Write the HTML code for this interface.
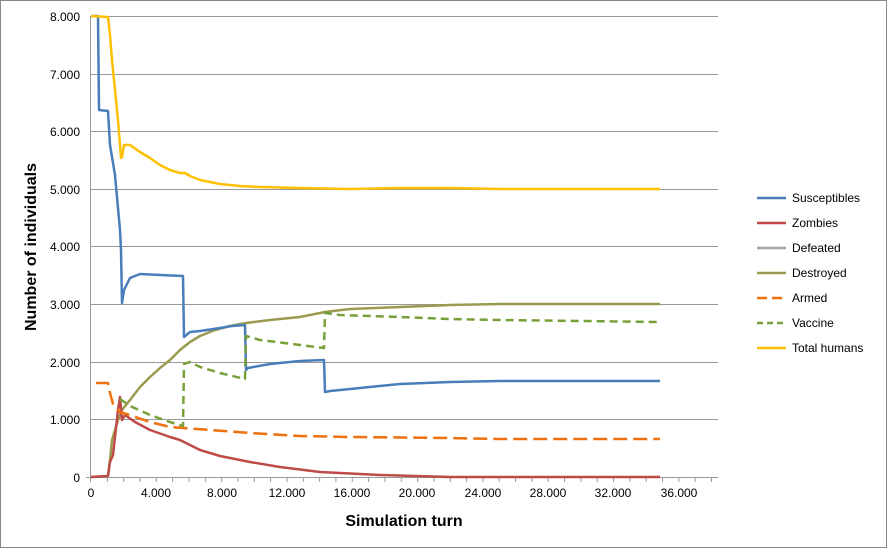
<!DOCTYPE html><html><head><style>body{margin:0;background:#fff}</style></head><body>
<svg width="888" height="549" xmlns="http://www.w3.org/2000/svg" font-family="Liberation Sans, sans-serif">
<rect x="0.5" y="0.5" width="886" height="547" fill="#fff" stroke="#888"/>
<g stroke="#999" stroke-width="1">
<line x1="91" y1="16.5" x2="718" y2="16.5"/><line x1="91" y1="74.5" x2="718" y2="74.5"/><line x1="91" y1="131.5" x2="718" y2="131.5"/><line x1="91" y1="189.5" x2="718" y2="189.5"/><line x1="91" y1="246.5" x2="718" y2="246.5"/><line x1="91" y1="304.5" x2="718" y2="304.5"/><line x1="91" y1="362.5" x2="718" y2="362.5"/><line x1="91" y1="419.5" x2="718" y2="419.5"/><line x1="86" y1="477.5" x2="718" y2="477.5"/>
<line x1="90.5" y1="16" x2="90.5" y2="482"/>
</g>
<g stroke="#999" id="ticks"></g>
<g font-size="12" fill="#000" text-anchor="end">
<text x="80" y="21">8.000</text><text x="80" y="79">7.000</text><text x="80" y="136">6.000</text><text x="80" y="194">5.000</text><text x="80" y="251">4.000</text><text x="80" y="309">3.000</text><text x="80" y="367">2.000</text><text x="80" y="424">1.000</text><text x="80" y="482">0</text>
</g>
<g font-size="12" fill="#000" text-anchor="middle">
<text x="91" y="497">0</text><text x="156" y="497">4.000</text><text x="222" y="497">8.000</text><text x="287" y="497">12.000</text><text x="352" y="497">16.000</text><text x="417" y="497">20.000</text><text x="483" y="497">24.000</text><text x="548" y="497">28.000</text><text x="613" y="497">32.000</text><text x="679" y="497">36.000</text>
</g>
<text x="404" y="526" font-size="16" font-weight="bold" text-anchor="middle">Simulation turn</text>
<text transform="translate(36,247) rotate(-90)" font-size="16" font-weight="bold" text-anchor="middle">Number of individuals</text>
<g fill="none" stroke-width="2.5" stroke-linejoin="round">
<polyline stroke="#9a9a50" points="91,477 108,476 110,460 112,440 118,420 122,410 130,400 140,387 150,377 160,368 170,360 180,350 190,342 200,336 215,330 230,326 246,323 270,320 300,317 325,312 350,309 400,307 450,305 500,304 660,304"/>
<polyline stroke="#4a7ebb" points="91,16 98,16 99,110 108,111 110,145 115,175 120,230 121,250 122,303 124,290 130,278 140,274 160,275 183,276 184,337 190,332 200,331 220,328 232,326 245,325 246,370 248,368 270,364 300,361 324,360 325,392 330,391 360,388 400,384 450,382 500,381 660,381"/>
<polyline stroke="#be4b48" points="91,477 108,476 110,462 113,455 118,410 120,397 122,420 125,415 135,422 150,430 170,437 180,440 200,450 220,456 250,462 280,467 320,472 380,475 450,477 660,477"/>
<polyline stroke="#f0700e" stroke-dasharray="14,6" points="96,383 108,383 110,393 113,404 120,412 130,415 150,422 170,427 183,428 210,430 250,433 300,436 350,437 450,438 500,439 660,439"/>
<polyline stroke="#78a03a" stroke-dasharray="8,5" points="120,399 130,406 150,415 170,422 183,426 184,364 190,362 200,367 220,373 245,379 246,336 260,340 300,345 324,348 325,313 340,315 400,317 450,319 500,320 660,322"/>
<polyline stroke="#ffc000" points="91,16 108,17 110,35 112,60 118,120 121,158 122,157 124,145 130,145 140,152 150,158 160,165 170,170 180,173 185,173 190,176 200,180 210,182 220,184 240,186 260,187 300,188 350,189 400,188 450,188 500,189 550,189 660,189"/>
</g>
<g stroke-width="2.5">
<line x1="757" y1="198" x2="786" y2="198" stroke="#4a7ebb"/>
<line x1="757" y1="223" x2="786" y2="223" stroke="#be4b48"/>
<line x1="757" y1="248" x2="786" y2="248" stroke="#a5a5a5"/>
<line x1="757" y1="273" x2="786" y2="273" stroke="#9a9a50"/>
<line x1="757" y1="298" x2="786" y2="298" stroke="#f0700e" stroke-dasharray="10,5"/>
<line x1="757" y1="323" x2="786" y2="323" stroke="#78a03a" stroke-dasharray="6,4"/>
<line x1="757" y1="348" x2="786" y2="348" stroke="#ffc000"/>
</g>
<g font-size="12">
<text x="792" y="202">Susceptibles</text><text x="792" y="227">Zombies</text><text x="792" y="252">Defeated</text><text x="792" y="277">Destroyed</text><text x="792" y="302">Armed</text><text x="792" y="327">Vaccine</text><text x="792" y="352">Total humans</text>
</g>
<script>
var g=document.getElementById('ticks');for(var i=1;i<=38;i++){var x=91+i*16.33;var l=document.createElementNS('http://www.w3.org/2000/svg','line');l.setAttribute('x1',x);l.setAttribute('x2',x);l.setAttribute('y1',477);l.setAttribute('y2',482);g.appendChild(l);}
</script>
</svg></body></html>
